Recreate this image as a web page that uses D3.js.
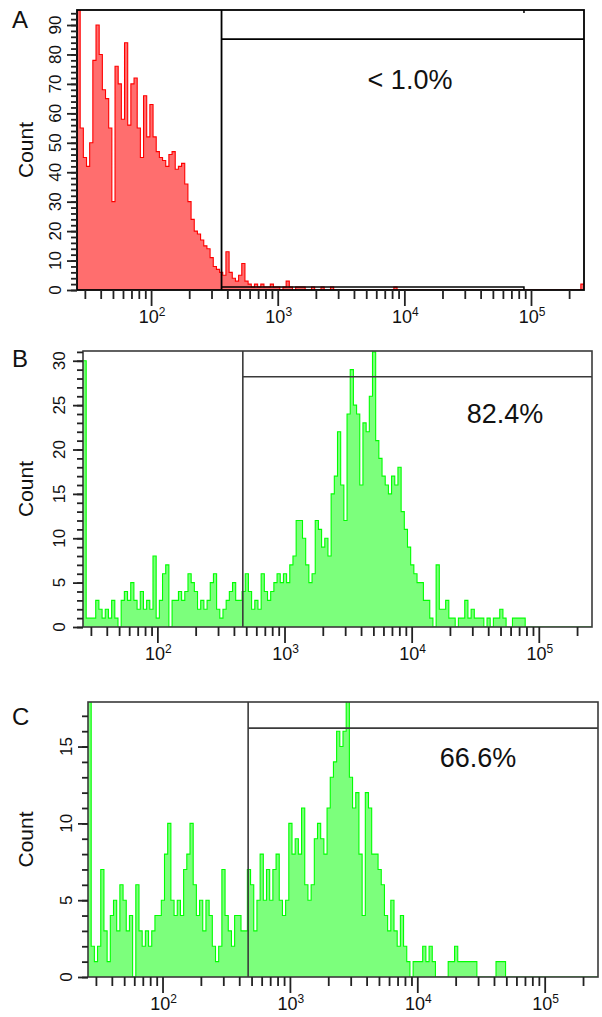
<!DOCTYPE html>
<html>
<head>
<meta charset="utf-8">
<script src="https://cdnjs.cloudflare.com/ajax/libs/d3/7.8.5/d3.min.js"></script>
<style>
  body { margin: 0; background: #fff; }
  svg { display: block; font-family: Arial, "Liberation Sans", sans-serif; }
</style>
</head>
<body>
<script>
const W = 602, H = 1017;

// histogram bins: 160 equal log-width bins between xMin and xMax
const xMin = 26, xMax = 262144, nBins = 160;

const countsA = [
  95, 55, 45, 42, 50, 78, 90, 80, 68, 65,
  55, 30, 76, 70, 58, 84, 56, 70, 72, 55,
  45, 66, 52, 63, 52, 47, 45, 44, 42, 46,
  47, 41, 42, 43, 36, 30, 24, 20, 19, 17,
  15, 14, 11, 8, 7, 6, 5, 13, 6, 4,
  3, 5, 9, 3, 2, 1, 2, 1, 2, 1,
  1, 2, 1, 1, 0, 1, 3, 1, 0, 1,
  1, 1, 0, 0, 1, 0, 0, 1, 0, 0,
  1, 0, 0, 0, 0, 0, 0, 0, 0, 0,
  0, 0, 0, 0, 0, 0, 0, 0, 0, 0,
  1, 0, 0, 0, 0, 0, 0, 0, 0, 0,
  0, 0, 0, 0, 0, 0, 0, 0, 0, 0,
  0, 0, 0, 0, 0, 0, 0, 0, 0, 0,
  0, 0, 0, 0, 0, 0, 0, 0, 0, 0,
  0, 0, 0, 0, 0, 0, 0, 0, 0, 0,
  0, 0, 0, 0, 0, 0, 0, 0, 0, 2
];

const countsB = [
  30, 1, 1, 1, 3, 2, 1, 2, 1, 3,
  1, 0, 3, 4, 3, 5, 3, 2, 4, 2,
  3, 2, 8, 1, 3, 6, 7, 0, 3, 3,
  4, 3, 4, 6, 5, 4, 2, 3, 2, 3,
  5, 6, 2, 1, 2, 3, 4, 5, 3, 3,
  4, 6, 4, 2, 3, 2, 6, 4, 3, 4,
  5, 6, 5, 6, 5, 7, 8, 12, 12, 10,
  7, 5, 6, 12, 11, 9, 10, 8, 15, 17,
  22, 16, 12, 24, 29, 25, 24, 16, 23, 22,
  26, 31, 21, 19, 17, 16, 15, 17, 16, 18,
  13, 11, 9, 7, 6, 5, 5, 3, 3, 1,
  0, 7, 2, 2, 3, 1, 1, 0, 1, 1,
  3, 1, 2, 1, 1, 1, 0, 1, 0, 1,
  1, 2, 1, 0, 0, 1, 1, 1, 1, 0,
  0, 0, 0, 0, 0, 0, 0, 0, 0, 0,
  0, 0, 0, 0, 0, 0, 0, 0, 0, 0
];

const countsC = [
  18, 2, 1, 2, 7, 3, 1, 4, 5, 3,
  6, 5, 3, 4, 0, 6, 3, 2, 3, 2,
  3, 4, 4, 5, 8, 10, 5, 4, 5, 4,
  7, 8, 10, 6, 4, 5, 3, 5, 4, 2,
  1, 2, 7, 4, 3, 2, 4, 4, 3, 3,
  7, 6, 3, 5, 8, 5, 7, 5, 7, 8,
  5, 4, 5, 10, 8, 9, 8, 11, 6, 5,
  6, 9, 10, 9, 8, 11, 13, 14, 16, 15,
  16, 18, 13, 11, 12, 8, 4, 12, 11, 8,
  8, 7, 6, 4, 3, 5, 3, 2, 4, 2,
  1, 0, 1, 1, 1, 2, 1, 2, 1, 0,
  0, 0, 0, 1, 1, 2, 1, 1, 1, 1,
  1, 1, 0, 0, 0, 0, 0, 0, 1, 1,
  1, 0, 0, 0, 0, 0, 0, 0, 0, 0,
  0, 0, 0, 0, 0, 0, 0, 0, 0, 0,
  0, 0, 0, 0, 0, 0, 0, 0, 0, 0
];

const panelLetters = ['A', 'B', 'C'];
const yMax = [95.1, 31.1, 17.9];
const yMajorTicks = [
  [0, 10, 20, 30, 40, 50, 60, 70, 80, 90],
  [0, 5, 10, 15, 20, 25, 30],
  [0, 5, 10, 15]
];
const yMinorTicks = [
  d3.range(0, 95, 2),
  d3.range(0, 32, 1),
  d3.range(0, 18, 1)
];
const xMajorTicks = [100, 1000, 10000, 100000];
const xTickExponents = ['2', '3', '4', '5'];
const gateStart = [360, 470, 470];
const gateCount = [85.2, 28.2, 16.2];
const gateLabels = ['< 1.0%', '82.4%', '66.6%'];
// low marker bar in panel A
const lowBarA = { from: 360, to: 88000, count: 1 };

const xMinor = [];
for (let d = 1; d <= 5; d++) {
  for (let k = 2; k <= 9; k++) {
    const v = k * Math.pow(10, d);
    if (v >= xMin && v <= xMax) xMinor.push(v);
  }
}

const panels = [
  { counts: countsA, left: 77, right: 584, top: 10, bottom: 290,
    stroke: '#ff0000', fill: '#ff6e6e', frame: '#000', frameW: 1.8,
    labelX: 410, labelY: 89, letterY: 28, tickLabelX: 61 },
  { counts: countsB, left: 83, right: 592, top: 351, bottom: 627,
    stroke: '#00ff00', fill: '#7cff7c', frame: '#3a3a3a', frameW: 1.6,
    labelX: 505, labelY: 423, letterY: 367, tickLabelX: 65 },
  { counts: countsC, left: 88, right: 598, top: 702, bottom: 977,
    stroke: '#00ff00', fill: '#7cff7c', frame: '#3a3a3a', frameW: 1.6,
    labelX: 478, labelY: 767, letterY: 725, tickLabelX: 72 }
];

const svg = d3.select('body').append('svg')
  .attr('width', W)
  .attr('height', H);

const logMin = Math.log10(xMin), logMax = Math.log10(xMax);
const binW = (logMax - logMin) / nBins;

panels.forEach((p, pi) => {
  const x = d3.scaleLog().domain([xMin, xMax]).range([p.left, p.right]);
  const y = d3.scaleLinear().domain([0, yMax[pi]]).range([p.bottom, p.top]);
  const g = svg.append('g');

  const clipId = 'clip' + pi;
  svg.append('clipPath').attr('id', clipId)
    .append('rect')
      .attr('x', p.left).attr('y', p.top)
      .attr('width', p.right - p.left).attr('height', p.bottom - p.top);

  // histogram as a stepped area
  const pts = p.counts.map((c, i) => ({ x: Math.pow(10, logMin + i * binW), c }));
  pts.push({ x: xMax, c: p.counts[p.counts.length - 1] });

  const area = d3.area()
    .curve(d3.curveStepAfter)
    .x(d => x(d.x))
    .y0(y(0))
    .y1(d => y(d.c));
  const line = d3.line()
    .curve(d3.curveStepAfter)
    .x(d => x(d.x))
    .y(d => y(d.c));

  const hist = g.append('g').attr('clip-path', `url(#${clipId})`);
  hist.append('path').datum(pts)
    .attr('d', area)
    .attr('fill', p.fill);
  hist.append('path').datum(pts)
    .attr('d', line)
    .attr('fill', 'none')
    .attr('stroke', p.stroke)
    .attr('stroke-width', 1.1);

  // frame
  g.append('rect')
    .attr('x', p.left).attr('y', p.top)
    .attr('width', p.right - p.left).attr('height', p.bottom - p.top)
    .attr('fill', 'none')
    .attr('stroke', p.frame)
    .attr('stroke-width', p.frameW);

  // gate
  g.append('line')
    .attr('x1', x(gateStart[pi])).attr('x2', x(gateStart[pi]))
    .attr('y1', p.top).attr('y2', p.bottom)
    .attr('stroke', p.frame).attr('stroke-width', p.frameW);
  g.append('line')
    .attr('x1', x(gateStart[pi])).attr('x2', p.right)
    .attr('y1', y(gateCount[pi])).attr('y2', y(gateCount[pi]))
    .attr('stroke', p.frame).attr('stroke-width', p.frameW);

  if (pi === 0) {
    g.append('path')
      .attr('d', `M${x(lowBarA.from)},${y(lowBarA.count)}H${x(lowBarA.to)}V${p.bottom}`)
      .attr('fill', 'none')
      .attr('stroke', p.frame).attr('stroke-width', 1.5);
    g.append('line')
      .attr('x1', x(lowBarA.to)).attr('x2', x(lowBarA.to))
      .attr('y1', p.top).attr('y2', p.top + 3)
      .attr('stroke', p.frame).attr('stroke-width', 1.5);
  }

  g.append('text')
    .attr('x', p.labelX).attr('y', p.labelY)
    .attr('text-anchor', 'middle')
    .attr('font-size', 27)
    .attr('fill', '#111')
    .text(gateLabels[pi]);

  // x axis
  const xMinorAxis = d3.axisBottom(x).tickValues(xMinor.filter(v => !xMajorTicks.includes(v)))
    .tickSize(9).tickFormat('');
  const xMajorAxis = d3.axisBottom(x).tickValues(xMajorTicks).tickSize(16).tickFormat('');
  [xMinorAxis, xMajorAxis].forEach(ax => {
    const a = g.append('g').attr('transform', `translate(0,${p.bottom})`).call(ax);
    a.select('.domain').remove();
    a.selectAll('line').attr('stroke', '#222').attr('stroke-width', 1.8);
  });
  xMajorTicks.forEach((v, i) => {
    const t = g.append('text')
      .attr('x', x(v) + 1).attr('y', p.bottom + 33)
      .attr('text-anchor', 'middle')
      .attr('font-size', 18)
      .attr('fill', '#111');
    t.append('tspan').text('10');
    t.append('tspan').attr('font-size', 12).attr('dy', -7).text(xTickExponents[i]);
  });

  // y axis
  const yMinorAxis = d3.axisLeft(y).tickValues(yMinorTicks[pi]).tickSize(6).tickFormat('');
  const yMajorAxis = d3.axisLeft(y).tickValues(yMajorTicks[pi]).tickSize(10).tickFormat('');
  [yMinorAxis, yMajorAxis].forEach(ax => {
    const a = g.append('g').attr('transform', `translate(${p.left},0)`).call(ax);
    a.select('.domain').remove();
    a.selectAll('line').attr('stroke', '#222').attr('stroke-width', 1.8);
  });
  yMajorTicks[pi].forEach(v => {
    g.append('text')
      .attr('transform', `translate(${p.tickLabelX},${y(v)}) rotate(-90)`)
      .attr('text-anchor', 'middle')
      .attr('font-size', 17)
      .attr('fill', '#111')
      .text(v);
  });

  g.append('text')
    .attr('transform', `translate(33,${(p.top + p.bottom) / 2}) rotate(-90)`)
    .attr('text-anchor', 'middle')
    .attr('font-size', 21)
    .attr('fill', '#111')
    .text('Count');

  g.append('text')
    .attr('x', 12).attr('y', p.letterY)
    .attr('font-size', 24)
    .attr('fill', '#111')
    .text(panelLetters[pi]);
});
</script>
</body>
</html>
